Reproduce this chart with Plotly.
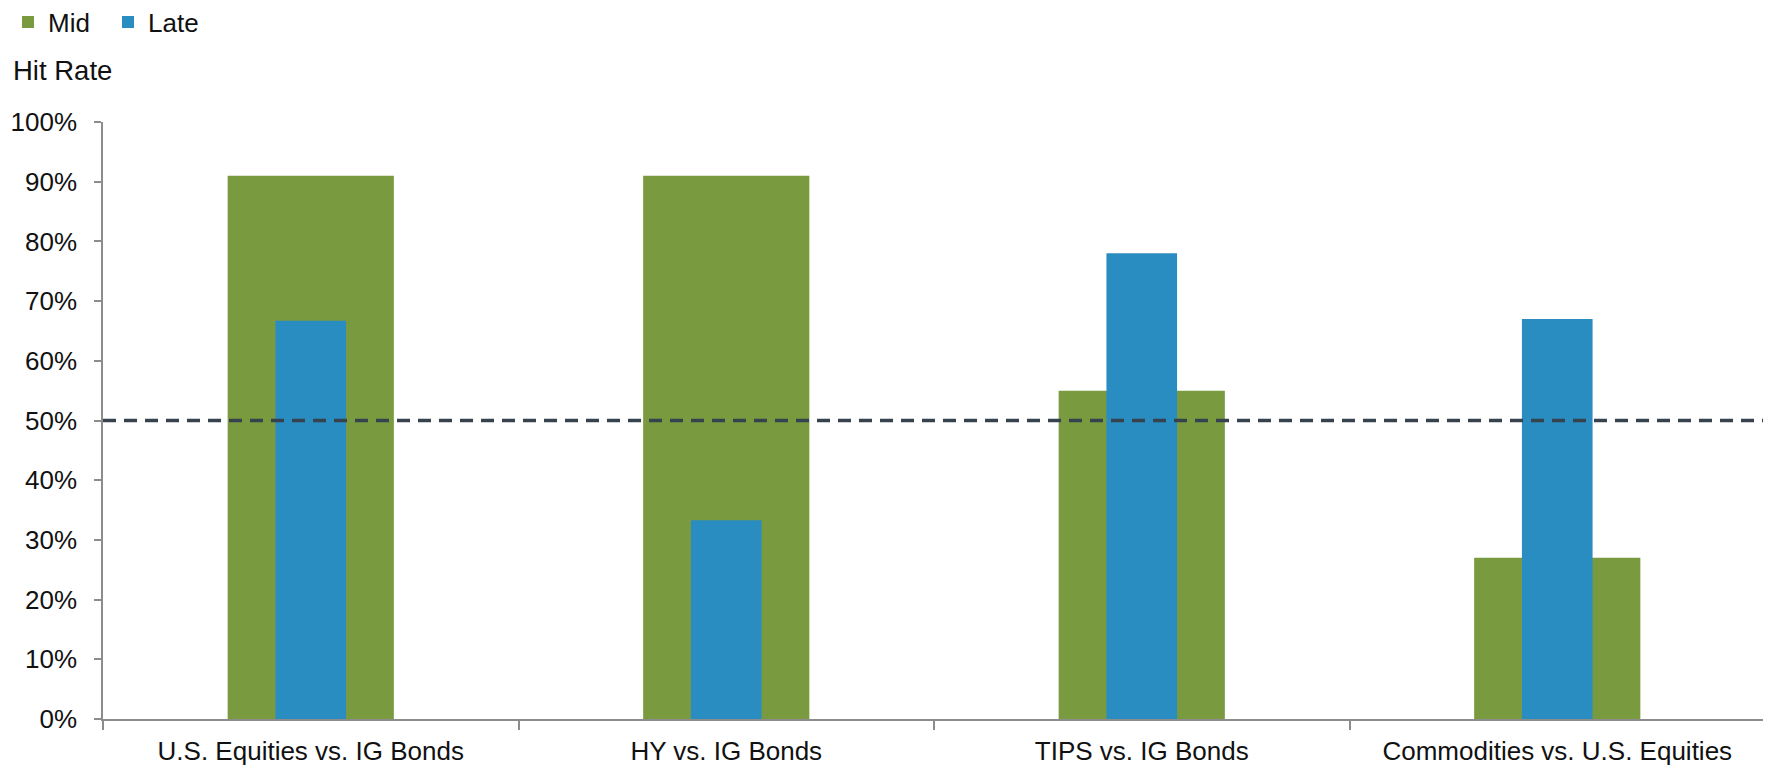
import plotly.graph_objects as go

categories = ["U.S. Equities vs. IG Bonds", "HY vs. IG Bonds", "TIPS vs. IG Bonds", "Commodities vs. U.S. Equities"]
mid_values = [0.91, 0.91, 0.55, 0.27]
late_values = [0.667, 0.333, 0.78, 0.67]
threshold = 0.5
y_ticks = [0, 0.1, 0.2, 0.3, 0.4, 0.5, 0.6, 0.7, 0.8, 0.9, 1.0]
y_tick_labels = ["0%", "10%", "20%", "30%", "40%", "50%", "60%", "70%", "80%", "90%", "100%"]

GREEN = "#7A9A3F"
BLUE = "#2A8DC1"
DASH = "#36434E"
AXIS = "#8C8C8C"
TEXT = "#111111"
FONT = "Liberation Sans, Arial, sans-serif"
# page body has an 8px margin, so the figure is sized to fit the window
W, H = 1763, 757
ML, MR, MT, MB = 95, 6, 114, 45.5

fig = go.Figure()
fig.add_trace(go.Bar(x=categories, y=mid_values, name="Mid", width=0.4,
                     marker=dict(color=GREEN, line=dict(width=0))))
fig.add_trace(go.Bar(x=categories, y=late_values, name="Late", width=0.17,
                     marker=dict(color=BLUE, line=dict(width=0))))

fig.add_shape(type="line", xref="paper", x0=0, x1=1, yref="y", y0=threshold, y1=threshold,
              line=dict(color=DASH, width=3.5, dash="13px,8px"), layer="above")

plot_w = W - ML - MR
plot_h = H - MT - MB
fig.add_annotation(text="Hit Rate", xref="paper", yref="paper",
                   x=(3 - ML) / plot_w, y=1 + (MT - 62) / plot_h,
                   xanchor="left", yanchor="middle", showarrow=False,
                   font=dict(size=27.5, color=TEXT, family=FONT))

fig.update_layout(
    width=W, height=H,
    margin=dict(l=ML, r=MR, t=MT, b=MB, autoexpand=False),
    plot_bgcolor="white", paper_bgcolor="white",
    barmode="overlay",
    font=dict(family=FONT, size=26, color=TEXT),
    showlegend=True,
    legend=dict(orientation="h", xref="container", yref="container", x=0, y=1 - 14 / H,
                xanchor="left", yanchor="middle", font=dict(size=26, color=TEXT),
                itemwidth=30, entrywidth=55, entrywidthmode="pixels",
                bgcolor="rgba(0,0,0,0)", traceorder="normal"),
    xaxis=dict(type="category", range=[-0.5, 3.5], showline=True, linecolor=AXIS, linewidth=1.5,
               ticks="outside", tickson="boundaries", ticklen=9, tickcolor=AXIS, tickwidth=1.5,
               showgrid=False, zeroline=False, automargin=False, ticklabelstandoff=8,
               tickfont=dict(size=26, color=TEXT)),
    yaxis=dict(range=[0, 1], tickvals=y_ticks, ticktext=y_tick_labels, showline=True,
               linecolor=AXIS, linewidth=1.5, ticks="outside", ticklen=7, tickcolor=AXIS,
               tickwidth=1.5, showgrid=False, zeroline=False, automargin=False,
               ticklabelstandoff=12, tickfont=dict(size=26, color=TEXT)),
)

fig.write_html("out.html")
